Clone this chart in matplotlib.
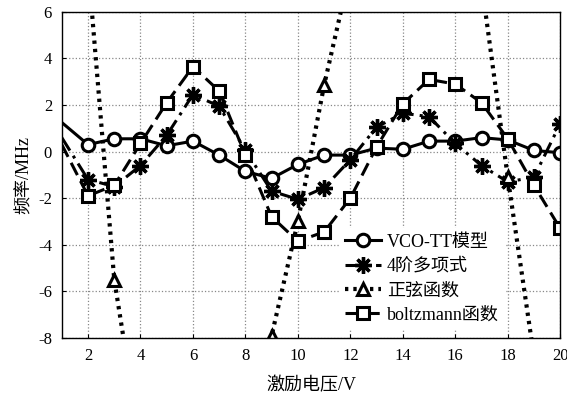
import numpy as np
import matplotlib
matplotlib.use("Agg")
import matplotlib.pyplot as plt

plt.rcParams['font.family'] = ['Liberation Serif', 'Noto Sans CJK SC']
plt.rcParams['axes.unicode_minus'] = False

# excitation voltage (V)
volt = list(range(1, 21))

# frequency error (MHz)
vco_tt = [1.25, 0.3, 0.55, 0.55, 0.25, 0.45, -0.15, -0.85, -1.15, -0.55,
          -0.15, -0.15, 0.15, 0.1, 0.45, 0.45, 0.6, 0.5, 0.05, -0.05]
poly4 = [0.6, -1.2, -1.5, -0.6, 0.7, 2.45, 1.95, 0.05, -1.7, -2.05,
         -1.55, -0.35, 1.05, 1.65, 1.5, 0.35, -0.6, -1.3, -1.1, 1.2]
sine = [14.0, 8.0, -5.5, -12.6, -16.0, -17.0, -16.0, -14.0, -7.9, -3.0,
        2.85, 7.8, 12.0, 14.0, 13.0, 11.0, 7.25, -1.1, -8.8, -14.0]
boltz = [0.3, -1.9, -1.45, 0.35, 2.1, 3.65, 2.6, -0.15, -2.8, -3.85,
         -3.45, -2.0, 0.2, 2.05, 3.1, 2.9, 2.1, 0.55, -1.45, -3.3]

labels = ['VCO-TT模型', '4阶多项式', '正弦函数', 'boltzmann函数']

fig = plt.figure(figsize=(5.67, 3.97), dpi=100)
ax = fig.add_axes([0.109, 0.149, 0.879, 0.821])

skip = slice(1, None)  # no marker at the left edge
ax.plot(volt, vco_tt, '-', color='black', lw=2.2, marker='o', ms=9,
        mfc='white', mew=2.2, markevery=skip, label=labels[0])
ax.plot(volt, poly4, color='black', lw=2.2, ls=(0, (5, 2, 1, 2)),
        marker=(8, 2, 0), ms=12, mew=2.4, markevery=skip, label=labels[1])
ax.plot(volt, sine, color='black', lw=3, ls=(0, (0.8, 1.2)), marker='^', ms=9,
        mfc='white', mew=2.2, markevery=skip, label=labels[2])
ax.plot(volt, boltz, color='black', lw=2.2, ls=(0, (4.5, 2.2)), marker='s', ms=9,
        mfc='white', mew=2.2, markevery=skip, label=labels[3])

ax.set_xlim(1, 20)
ax.set_ylim(-8, 6)
ax.set_xticks(range(2, 21, 2))
ax.set_yticks(range(-8, 7, 2))
ax.grid(True, linestyle=':', color='#888888', lw=0.9)
ax.tick_params(direction='in', length=3, labelsize=12, pad=7)
for s in ax.spines.values():
    s.set_linewidth(1.0)

ax.set_xlabel('激励电压/V', fontsize=13, labelpad=10)
ax.set_ylabel('频率/MHz', fontsize=13, labelpad=4)

leg = ax.legend(loc='lower left', bbox_to_anchor=(0.54, 0.0), fontsize=13,
                frameon=True, framealpha=1, edgecolor='white', fancybox=False,
                handlelength=2.0, handletextpad=0.3, labelspacing=0.4,
                borderpad=0.3)

fig.savefig('out.png', dpi=100)
